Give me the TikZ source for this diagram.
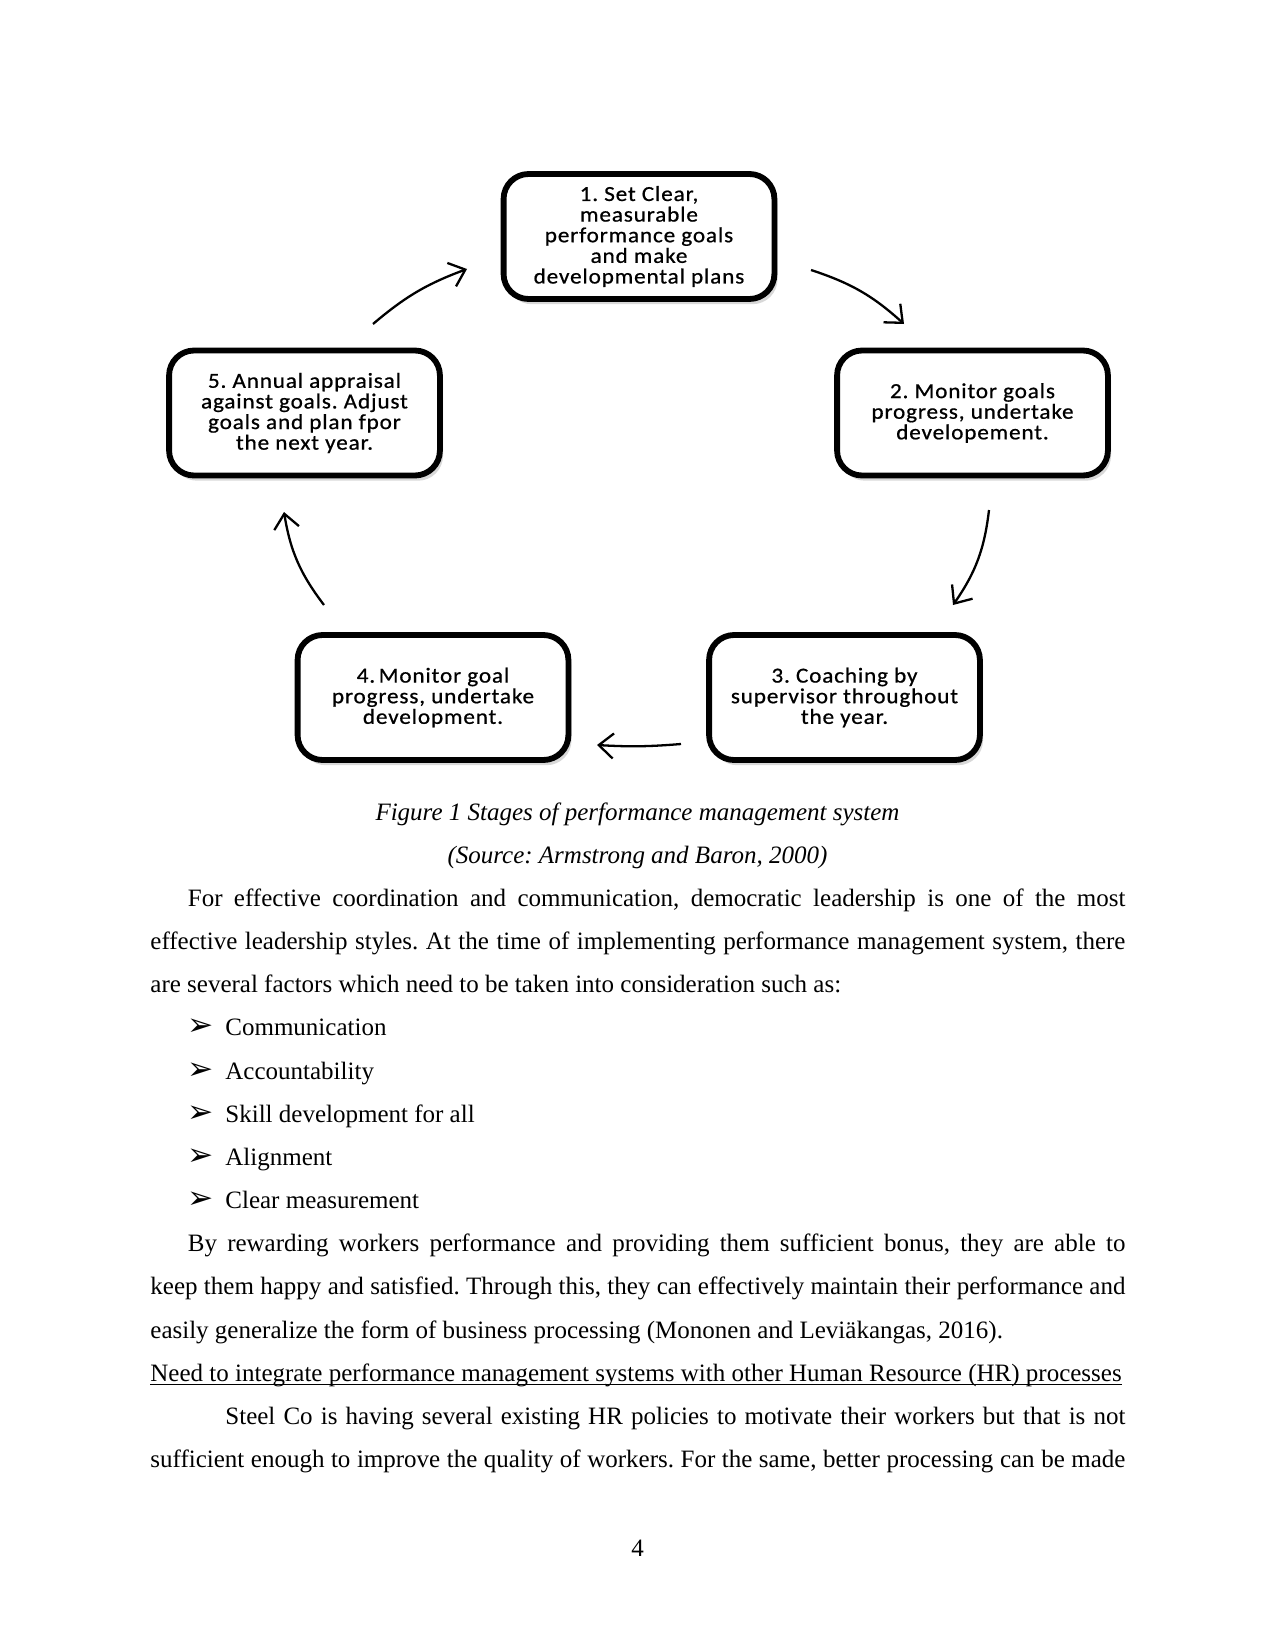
\documentclass[tikz,border=0pt]{standalone}
\usepackage{fontspec}
\setmainfont{Liberation Serif}
\newfontfamily\boxfont[LetterSpace=4,FakeBold=0.7,FakeStretch=1.08]{Carlito}
\newfontfamily\symfont{DejaVu Sans}
\usetikzlibrary{arrows.meta,shadows}
\begin{document}
\frenchspacing
\begin{tikzpicture}[x=0.48pt,y=-0.48pt,
  stage/.style={draw=black, line width=2.8pt, rounded corners=12pt, fill=white,
    minimum width=130pt, minimum height=60pt, align=center, inner sep=2pt,
    font=\boxfont\fontsize{10.3}{9.9}\selectfont,
    drop shadow={opacity=0.3, shadow xshift=1.5pt, shadow yshift=-2.5pt}},
  cyc/.style={line width=1.1pt, -{Straight Barb[length=7pt,width=12pt]}},
  txt/.style={anchor=mid west, inner sep=0pt, font=\fontsize{12}{14}\selectfont},
  ctr/.style={anchor=mid, inner sep=0pt, font=\fontsize{12}{14}\selectfont\itshape},
  bul/.style={anchor=mid west, inner sep=0pt, font=\symfont\fontsize{15}{16}\selectfont}
]
\useasboundingbox[fill=white] (0,0) rectangle (1275,1651);

% stages
\node[stage] (s1) at (639,236.5) {1. Set Clear,\\measurable\\performance goals\\and make\\developmental plans};
\node[stage] (s2) at (972.5,413) {2. Monitor goals\\progress, undertake\\developement.};
\node[stage] (s3) at (844.5,697.5) {3. Coaching by\\supervisor throughout\\the year.};
\node[stage] (s4) at (433,697.5) {4.\,Monitor goal\\progress, undertake\\development.};
\node[stage] (s5) at (304.5,413) {5. Annual appraisal\\against goals. Adjust\\goals and plan\ fpor\\the next year.};

% arrow ends
\coordinate (a1s) at (811,270); \coordinate (a1e) at (904,324);
\coordinate (a2s) at (989,510); \coordinate (a2e) at (953,605);
\coordinate (a3s) at (681,744); \coordinate (a3e) at (597,745);
\coordinate (a4s) at (324,605); \coordinate (a4e) at (284,512);
\coordinate (a5s) at (373,324); \coordinate (a5e) at (467,269);
\draw[cyc] (a1s) to[bend left=12] (a1e);
\draw[cyc] (a2s) to[bend left=14] (a2e);
\draw[cyc] (a3s) to[bend left=4] (a3e);
\draw[cyc] (a4s) to[bend left=14] (a4e);
\draw[cyc] (a5s) to[bend left=10] (a5e);

% captions
\node[ctr] (cap1) at (637.5,815.5) {Figure 1 Stages of performance management system};
\node[ctr] (cap2) at (637.5,858.5) {(Source: Armstrong and Baron, 2000)};

% paragraph 1
\node[txt] (p1a) at (187.5,901.5) {\hbox to 450pt{For effective coordination and communication, democratic leadership is one of the most}};
\node[txt] (p1b) at (150,944.5) {\hbox to 468pt{effective leadership styles. At the time of implementing performance management system, there}};
\node[txt] (p1c) at (150,987.5) {are several factors which need to be taken into consideration such as:};

% bullets
\node[bul] (b1) at (187,1030.5) {➢}; \node[txt] (t1) at (225,1030.5) {Communication};
\node[bul] (b2) at (187,1074.5) {➢}; \node[txt] (t2) at (225,1074.5) {Accountability};
\node[bul] (b3) at (187,1117.5) {➢}; \node[txt] (t3) at (225,1117.5) {Skill development for all};
\node[bul] (b4) at (187,1160.5) {➢}; \node[txt] (t4) at (225,1160.5) {Alignment};
\node[bul] (b5) at (187,1203.5) {➢}; \node[txt] (t5) at (225,1203.5) {Clear measurement};

% paragraph 2
\node[txt] (p2a) at (187.5,1246.5) {\hbox to 450pt{By rewarding workers performance and providing them sufficient bonus, they are able to}};
\node[txt] (p2b) at (150,1289.5) {\hbox to 468pt{keep them happy and satisfied. Through this, they can effectively maintain their performance and}};
\node[txt] (p2c) at (150,1333.5) {easily generalize the form of business processing (Mononen and Leviäkangas, 2016).};

% heading
\node[txt] (h1) at (150,1376.5) {Need to integrate performance management systems with other Human Resource (HR) processes};
\draw[line width=0.6pt] ([yshift=-1.6pt]h1.base west) -- ([yshift=-1.6pt]h1.base east);

% paragraph 3
\node[txt] (p3a) at (225,1419.5) {\hbox to 432pt{Steel Co is having several existing HR policies to motivate their workers but that is not}};
\node[txt] (p3b) at (150,1462.5) {\hbox to 468pt{sufficient enough to improve the quality of workers. For the same, better processing can be made}};

% page number
\node[anchor=mid, inner sep=0pt, font=\fontsize{12}{14}\selectfont] (pg) at (637.5,1551.5) {4};
\end{tikzpicture}
\end{document}
